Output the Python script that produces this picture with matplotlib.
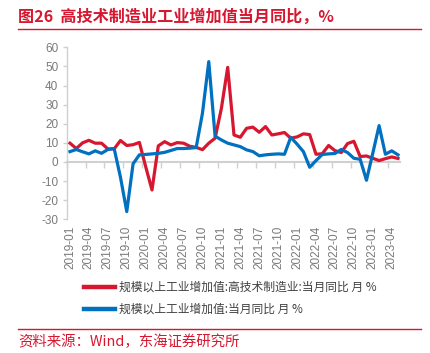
import matplotlib
matplotlib.use("Agg")
import matplotlib.pyplot as plt
from matplotlib.lines import Line2D
import numpy as np

# data, one point per month from 2019-01
months = [f"{y}-{m:02d}" for y in range(2019, 2024) for m in range(1, 13)][:53]
hightech = [9.8, 7.0, 10.0, 11.3, 9.8, 9.8, 6.8, 6.8, 11.2, 8.6,
            9.0, 10.2, -2.5, -14.7, 8.4, 10.6, 8.9, 10.1, 9.8, 8.2,
            7.6, 6.4, 9.8, 12.4, 28.0, 49.5, 14.1, 12.9, 17.6, 18.2,
            15.5, 18.5, 14.1, 14.7, 15.4, 12.4, 13.1, 14.7, 14.3, 4.0,
            4.3, 8.6, 5.9, 4.9, 9.6, 10.8, 2.8, 3.1, 1.9, 0.7,
            1.7, 2.6, 1.8]
industry = [5.4, 6.5, 5.3, 4.2, 5.8, 4.5, 6.5, 7.0, -8.0, -26.0,
            -1.0, 3.7, 3.9, 4.2, 4.5, 5.0, 6.0, 7.0, 7.0, 7.2,
            7.5, 25.5, 52.5, 13.5, 11.5, 9.8, 8.9, 8.0, 6.3, 5.4,
            3.2, 3.7, 4.0, 4.2, 4.0, 12.9, 9.3, 5.4, -2.8, 0.7,
            3.9, 4.2, 4.4, 6.5, 4.9, 1.9, 1.4, -9.6, 4.5, 19.0,
            4.0, 5.8, 3.7]
labels = ["规模以上工业增加值:高技术制造业:当月同比 月 %",
          "规模以上工业增加值:当月同比 月 %"]
yticks = [-30, -20, -10, 0, 10, 20, 30, 40, 50, 60]

RED = "#D7172F"
BLUE = "#0070C0"
GRAY_TXT = "#7a7a7a"
AXIS = "#d0d0d0"
CJK = ["Noto Sans CJK SC", "DejaVu Sans"]

plt.rcParams["font.family"] = ["Liberation Sans", "Noto Sans CJK SC", "DejaVu Sans"]

fig = plt.figure(figsize=(4.30, 3.53), dpi=100)
ax = fig.add_axes([0.155, 0.379, 0.775, 0.487])

x = np.arange(len(months))
ax.plot(x, hightech, color=RED, lw=2.3, solid_joinstyle="round", zorder=3)
ax.plot(x, industry, color=BLUE, lw=2.3, solid_joinstyle="round", zorder=4)

ax.set_xlim(-0.53, 52.3)
ax.set_ylim(-30, 60)

# spines: y axis on the left, x axis line drawn at zero
for s in ["top", "right"]:
    ax.spines[s].set_visible(False)
ax.spines["left"].set_color(AXIS)
ax.spines["left"].set_linewidth(1.0)
ax.spines["bottom"].set_position(("data", 0))
ax.spines["bottom"].set_color(AXIS)
ax.spines["bottom"].set_linewidth(1.5)
ax.spines["bottom"].set_zorder(1)

ax.set_yticks(yticks)
ax.set_yticklabels([str(v) for v in yticks])
ax.tick_params(axis="y", colors=AXIS, labelcolor=GRAY_TXT, labelsize=8.5,
               length=3, width=1.0, pad=3)

# tick marks between categories every 3 months, labels at category centres
idx = np.arange(0, len(months), 3)
ax.set_xticks(idx - 0.53)
ax.set_xticklabels([])
ax.tick_params(axis="x", which="major", colors=AXIS, length=4, width=1.0)
ax.set_xticks(idx, minor=True)
ax.set_xticklabels([months[i] for i in idx], minor=True, rotation=90)
ax.tick_params(axis="x", which="minor", length=0, labelcolor=GRAY_TXT,
               labelsize=8.5, pad=46)

# title + rules
fig.text(18 / 430, 1 - 17 / 353, "图26  高技术制造业工业增加值当月同比，%",
         color=RED, fontsize=11.6, fontweight="bold", family=CJK,
         ha="left", va="center")
fig.add_artist(Line2D([18 / 430, 421 / 430], [1 - 29 / 353] * 2,
                      color=RED, lw=1.0, transform=fig.transFigure))
fig.add_artist(Line2D([18 / 430, 421 / 430], [1 - 329 / 353] * 2,
                      color=RED, lw=1.0, transform=fig.transFigure))
fig.text(18 / 430, 1 - 342 / 353, "资料来源：Wind，东海证券研究所",
         color=RED, fontsize=10.4, family=CJK, ha="left", va="center")

handles = [Line2D([], [], color=RED, lw=3.2), Line2D([], [], color=BLUE, lw=3.2)]
leg = fig.legend(handles, labels, loc="upper left",
                 bbox_to_anchor=(84 / 430, 1 - 281 / 353), frameon=False,
                 borderpad=0, borderaxespad=0, handlelength=2.6,
                 handletextpad=0.35, labelspacing=0.75,
                 prop={"family": CJK, "size": 8.5})
for t in leg.get_texts():
    t.set_color("#404040")

fig.savefig("out.png", dpi=100)
